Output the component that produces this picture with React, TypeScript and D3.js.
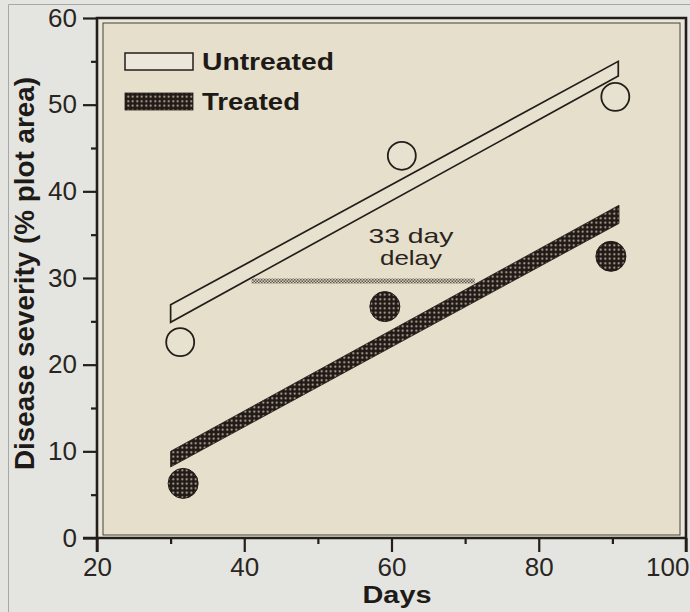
import React, { useEffect, useRef } from "react";
import * as d3 from "d3";

// ---- data ----
const untreatedDays = [31.3, 61.4, 90.4];
const untreatedSeverity = [22.6, 44.1, 50.9];
const treatedDays = [31.7, 59.1, 89.8];
const treatedSeverity = [6.3, 26.7, 32.5];

// fitted bands: [start, end] day, lower and upper edge values
const untreatedFitDays = [30, 90.8];
const untreatedFitLo = [24.9, 53.3];
const untreatedFitHi = [26.9, 55.0];
const treatedFitDays = [30, 90.9];
const treatedFitLo = [8.2, 36.3];
const treatedFitHi = [10.0, 38.4];

const delayDays = [41, 71.3];
const delayLevel = 29.65;

const xMajorTicks = [20, 40, 60, 80, 100];
const xMinorTicks = [30, 50, 70, 90];
const yMajorTicks = [0, 10, 20, 30, 40, 50, 60];
const yMinorTicks = [5, 15, 25, 35, 45, 55];

const legendLabels = ["Untreated", "Treated"];
const annotationLines = ["33 day", "delay"];

const FONT = "'Liberation Sans', Arial, Helvetica, sans-serif";
const INK = "#241e1b";

export default function App() {
  const ref = useRef<SVGSVGElement>(null);

  useEffect(() => {
    const svg = d3.select(ref.current);
    svg.selectAll("*").remove();

    const x = d3.scaleLinear().domain([20, 100]).range([97, 686]);
    const y = d3.scaleLinear().domain([0, 60]).range([538, 18]);

    const defs = svg.append("defs");
    const dots = defs
      .append("pattern")
      .attr("id", "dots")
      .attr("patternUnits", "userSpaceOnUse")
      .attr("width", 4.5)
      .attr("height", 4.5);
    dots.append("rect").attr("width", 4.5).attr("height", 4.5).attr("fill", "#211a17");
    dots.append("circle").attr("cx", 2.25).attr("cy", 2.25).attr("r", 1.05).attr("fill", "#bdb5a1");

    const checker = defs
      .append("pattern")
      .attr("id", "checker")
      .attr("patternUnits", "userSpaceOnUse")
      .attr("width", 3)
      .attr("height", 3);
    checker.append("rect").attr("width", 3).attr("height", 3).attr("fill", "#d6cfbb");
    checker.append("rect").attr("width", 1.5).attr("height", 1.5).attr("fill", "#5e5850");
    checker.append("rect").attr("x", 1.5).attr("y", 1.5).attr("width", 1.5).attr("height", 1.5).attr("fill", "#5e5850");

    // page background
    svg.append("rect").attr("width", 690).attr("height", 612).attr("fill", "#e4e5e1");
    svg.append("path").attr("d", "M8.5,612 V4.5 H690").attr("fill", "none").attr("stroke", "#a7a8a3").attr("stroke-width", 1);

    // plot frame
    const [x0, x1] = x.range();
    const [y0, y1] = y.range();
    svg.append("rect").attr("x", x0).attr("y", y1).attr("width", x1 - x0).attr("height", y0 - y1).attr("fill", "#e9e6da");
    svg
      .append("rect")
      .attr("x", x0 + 6)
      .attr("y", y1 + 5)
      .attr("width", x1 - x0 - 12)
      .attr("height", y0 - y1 - 8)
      .attr("fill", "#e5dfcb")
      .attr("stroke", "#4a423a")
      .attr("stroke-width", 1);

    // bands
    const bandPath = (days: number[], lo: number[], hi: number[]) =>
      `M${x(days[0])},${y(hi[0])} L${x(days[1])},${y(hi[1])} L${x(days[1])},${y(lo[1])} L${x(days[0])},${y(lo[0])} Z`;

    svg
      .append("path")
      .attr("d", bandPath(untreatedFitDays, untreatedFitLo, untreatedFitHi))
      .attr("fill", "#e7e2cf")
      .attr("stroke", INK)
      .attr("stroke-width", 1.7)
      .attr("stroke-linejoin", "miter");

    svg
      .append("path")
      .attr("d", bandPath(treatedFitDays, treatedFitLo, treatedFitHi))
      .attr("fill", "url(#dots)")
      .attr("stroke", "#211a17")
      .attr("stroke-width", 0.8);

    // delay line
    svg
      .append("rect")
      .attr("x", x(delayDays[0]))
      .attr("y", y(delayLevel) - 2.5)
      .attr("width", x(delayDays[1]) - x(delayDays[0]))
      .attr("height", 5)
      .attr("fill", "url(#checker)");

    // annotation
    const annW = [85, 62];
    annotationLines.forEach((t, i) => {
      svg
        .append("text")
        .attr("x", 411)
        .attr("y", 243 + i * 22)
        .attr("text-anchor", "middle")
        .attr("font-family", FONT)
        .attr("font-size", 21)
        .attr("fill", "#2a2420")
        .attr("textLength", annW[i])
        .attr("lengthAdjust", "spacingAndGlyphs")
        .text(t);
    });

    // points
    svg
      .selectAll("circle.untreated")
      .data(untreatedDays.map((d, i) => [d, untreatedSeverity[i]]))
      .join("circle")
      .attr("class", "untreated")
      .attr("cx", (d) => x(d[0]))
      .attr("cy", (d) => y(d[1]))
      .attr("r", 14)
      .attr("fill", "#e7e2cf")
      .attr("stroke", INK)
      .attr("stroke-width", 1.8);

    svg
      .selectAll("circle.treated")
      .data(treatedDays.map((d, i) => [d, treatedSeverity[i]]))
      .join("circle")
      .attr("class", "treated")
      .attr("cx", (d) => x(d[0]))
      .attr("cy", (d) => y(d[1]))
      .attr("r", 15)
      .attr("fill", "url(#dots)")
      .attr("stroke", "#211a17")
      .attr("stroke-width", 1);

    // legend
    const legW = [132, 98];
    legendLabels.forEach((lab, i) => {
      const top = i === 0 ? 53 : 93;
      svg
        .append("rect")
        .attr("x", 125)
        .attr("y", top)
        .attr("width", 68)
        .attr("height", 17)
        .attr("fill", i === 0 ? "#ebe7da" : "url(#dots)")
        .attr("stroke", INK)
        .attr("stroke-width", i === 0 ? 1.5 : 0.8);
      svg
        .append("text")
        .attr("x", 202)
        .attr("y", top + 16.5)
        .attr("font-family", FONT)
        .attr("font-weight", "bold")
        .attr("font-size", 23)
        .attr("fill", "#1e1a17")
        .attr("textLength", legW[i])
        .attr("lengthAdjust", "spacingAndGlyphs")
        .text(lab);
    });

    // axes
    const styleAxis = (g: any) => {
      g.select(".domain").remove();
      g.selectAll("line").attr("stroke", INK).attr("stroke-width", 2.2);
      g.selectAll("text").attr("font-family", FONT).attr("font-size", 26).attr("fill", "#2a2522");
    };

    svg
      .append("g")
      .attr("transform", `translate(${x0},0)`)
      .call(d3.axisLeft(y).tickValues(yMajorTicks).tickSize(14).tickPadding(6).tickFormat(d3.format("d")))
      .call(styleAxis);
    svg
      .append("g")
      .attr("transform", `translate(${x0},0)`)
      .call(d3.axisLeft(y).tickValues(yMinorTicks).tickSize(6).tickFormat(() => ""))
      .call(styleAxis);

    const xAxisG = svg
      .append("g")
      .attr("transform", `translate(0,${y0})`)
      .call(d3.axisBottom(x).tickValues(xMajorTicks).tickSize(14).tickPadding(6).tickFormat(d3.format("d")))
      .call(styleAxis);
    xAxisG
      .selectAll("g.tick")
      .filter((d: any) => d === 100)
      .select("text")
      .attr("text-anchor", "end")
      .attr("x", 3);
    svg
      .append("g")
      .attr("transform", `translate(0,${y0})`)
      .call(d3.axisBottom(x).tickValues(xMinorTicks).tickSize(6).tickFormat(() => ""))
      .call(styleAxis);

    // outer frame lines
    svg
      .append("path")
      .attr("d", `M${x0},${y0 + 14} V${y1} H${x1} V${y0 + 14}`)
      .attr("fill", "none")
      .attr("stroke", INK)
      .attr("stroke-width", 2.6);
    svg
      .append("path")
      .attr("d", `M${x0 - 14},${y0} H${x1}`)
      .attr("fill", "none")
      .attr("stroke", INK)
      .attr("stroke-width", 2.6);

    // axis titles
    svg
      .append("text")
      .attr("x", 397)
      .attr("y", 603)
      .attr("text-anchor", "middle")
      .attr("font-family", FONT)
      .attr("font-weight", "bold")
      .attr("font-size", 23)
      .attr("fill", "#1e1a17")
      .attr("textLength", 69)
      .attr("lengthAdjust", "spacingAndGlyphs")
      .text("Days");

    svg
      .append("text")
      .attr("transform", "translate(34,273.5) rotate(-90)")
      .attr("text-anchor", "middle")
      .attr("font-family", FONT)
      .attr("font-weight", "bold")
      .attr("font-size", 27)
      .attr("fill", "#1e1a17")
      .attr("textLength", 393)
      .attr("lengthAdjust", "spacingAndGlyphs")
      .text("Disease severity (% plot area)");
  }, []);

  return (
    <div style={{ position: "absolute", left: 0, top: 0 }}>
      <svg ref={ref} width={690} height={612} style={{ display: "block" }} />
    </div>
  );
}
